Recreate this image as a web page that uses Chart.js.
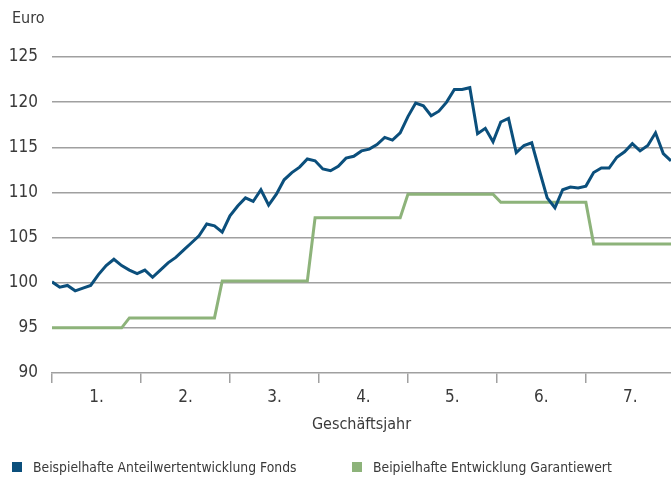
<!DOCTYPE html>
<html>
<head>
<meta charset="utf-8">
<script src="https://cdn.jsdelivr.net/npm/chart.js@4/dist/chart.umd.min.js"></script>
<style>
  html, body { margin: 0; padding: 0; background: #fff; }
  #wrap { position: relative; width: 671px; height: 477px; overflow: hidden; }
  canvas { position: absolute; left: 0; top: 0; }
  .txt { position: absolute; font-family: "Liberation Sans Narrow", "DejaVu Sans Condensed", "Open Sans", sans-serif; color: #3a3a3a; white-space: nowrap; }
  .sw { position: absolute; width: 10px; height: 10px; }
</style>
</head>
<body>
<div id="wrap">
  <canvas id="c" width="671" height="477"></canvas>
  <div class="txt" style="left:12px; top:8px; font-size:16px;">Euro</div>
  <div class="sw" style="left:12px; top:462px; background:#0b4f7c;"></div>
  <div class="txt" style="left:33px; top:459px; font-size:13.8px;">Beispielhafte Anteilwertentwicklung Fonds</div>
  <div class="sw" style="left:352px; top:462px; background:#8db37a;"></div>
  <div class="txt" style="left:373px; top:459px; font-size:13.8px;">Beipielhafte Entwicklung Garantiewert</div>
</div>
<script>
const yearLabels = ["1.", "2.", "3.", "4.", "5.", "6.", "7."];
const yTicks = [90, 95, 100, 105, 110, 115, 120, 125];
const fondsValues = [
  100.1, 99.5, 99.7, 99.1, 99.4, 99.7, 100.9, 101.9, 102.6, 101.9,
  101.4, 101.0, 101.4, 100.6, 101.4, 102.2, 102.8, 103.6, 104.4, 105.2,
  106.5, 106.3, 105.6, 107.4, 108.5, 109.4, 109.0, 110.3, 108.6, 109.8,
  111.4, 112.2, 112.8, 113.7, 113.5, 112.6, 112.4, 112.9, 113.8, 114.0,
  114.6, 114.8, 115.3, 116.1, 115.8, 116.6, 118.4, 119.9, 119.6, 118.5,
  119.0, 120.0, 121.4, 121.4, 121.6, 116.5, 117.1, 115.6, 117.8, 118.2,
  114.4, 115.2, 115.5, 112.4, 109.4, 108.3, 110.3, 110.6, 110.5, 110.7,
  112.2, 112.7, 112.7, 113.9, 114.5, 115.4, 114.6, 115.2, 116.6, 114.3,
  113.5
];
const garantieValues = [
  95.0, 95.0, 95.0, 95.0, 95.0, 95.0, 95.0, 95.0, 95.0, 95.0,
  96.1, 96.1, 96.1, 96.1, 96.1, 96.1, 96.1, 96.1, 96.1, 96.1,
  96.1, 96.1, 100.2, 100.2, 100.2, 100.2, 100.2, 100.2, 100.2, 100.2,
  100.2, 100.2, 100.2, 100.2, 107.2, 107.2, 107.2, 107.2, 107.2, 107.2,
  107.2, 107.2, 107.2, 107.2, 107.2, 107.2, 109.8, 109.8, 109.8, 109.8,
  109.8, 109.8, 109.8, 109.8, 109.8, 109.8, 109.8, 109.8, 108.9, 108.9,
  108.9, 108.9, 108.9, 108.9, 108.9, 108.9, 108.9, 108.9, 108.9, 108.9,
  104.3, 104.3, 104.3, 104.3, 104.3, 104.3, 104.3, 104.3, 104.3, 104.3,
  104.3
];
const periodsPerYear = 11.5;

const FONT = '"Liberation Sans Narrow", "DejaVu Sans Condensed", "Open Sans", sans-serif';
const toPts = arr => arr.map((v, i) => ({ x: i, y: v }));

new Chart(document.getElementById('c'), {
  type: 'line',
  data: {
    datasets: [
      { label: 'Beispielhafte Anteilwertentwicklung Fonds', data: toPts(fondsValues),
        borderColor: '#0b4f7c', borderWidth: 3, pointRadius: 0, tension: 0, fill: false },
      { label: 'Beipielhafte Entwicklung Garantiewert', data: toPts(garantieValues),
        borderColor: '#8db37a', borderWidth: 3, pointRadius: 0, tension: 0, fill: false }
    ]
  },
  options: {
    responsive: false,
    animation: false,
    devicePixelRatio: 1,
    layout: { padding: { top: 57, left: 0, right: 0, bottom: 41 } },
    plugins: { legend: { display: false }, tooltip: { enabled: false } },
    scales: {
      x: {
        type: 'linear',
        min: 0,
        max: fondsValues.length - 1,
        afterBuildTicks: s => {
          const t = [];
          for (let k = 0; k < yearLabels.length * 2; k++) t.push({ value: k * periodsPerYear / 2 });
          s.ticks = t;
        },
        afterFit: s => { s.height = 63; },
        ticks: {
          autoSkip: false, maxRotation: 0, padding: 4, color: '#3a3a3a',
          font: { family: FONT, size: 17 },
          callback: (v, i) => (i % 2 === 1 ? yearLabels[(i - 1) / 2] : '')
        },
        grid: {
          drawOnChartArea: false, drawTicks: true, tickLength: 10, lineWidth: 1.5,
          color: ctx => (ctx.index % 2 === 0 ? '#a0a0a0' : 'rgba(0,0,0,0)')
        },
        border: { display: true, color: '#a0a0a0', width: 1.5 },
        title: { display: true, text: 'Geschäftsjahr', color: '#3a3a3a',
          font: { family: FONT, size: 16 }, padding: { top: 0, bottom: 2 } }
      },
      y: {
        min: 90, max: 125,
        afterBuildTicks: s => { s.ticks = yTicks.map(v => ({ value: v })); },
        afterFit: s => { s.width = 52; },
        ticks: { padding: 14, color: '#3a3a3a', font: { family: FONT, size: 17 } },
        grid: {
          drawTicks: false, lineWidth: 1.5,
          color: ctx => (ctx.tick && ctx.tick.value === 90 ? 'rgba(0,0,0,0)' : '#a0a0a0')
        },
        border: { display: false }
      }
    }
  }
});
</script>
</body>
</html>
